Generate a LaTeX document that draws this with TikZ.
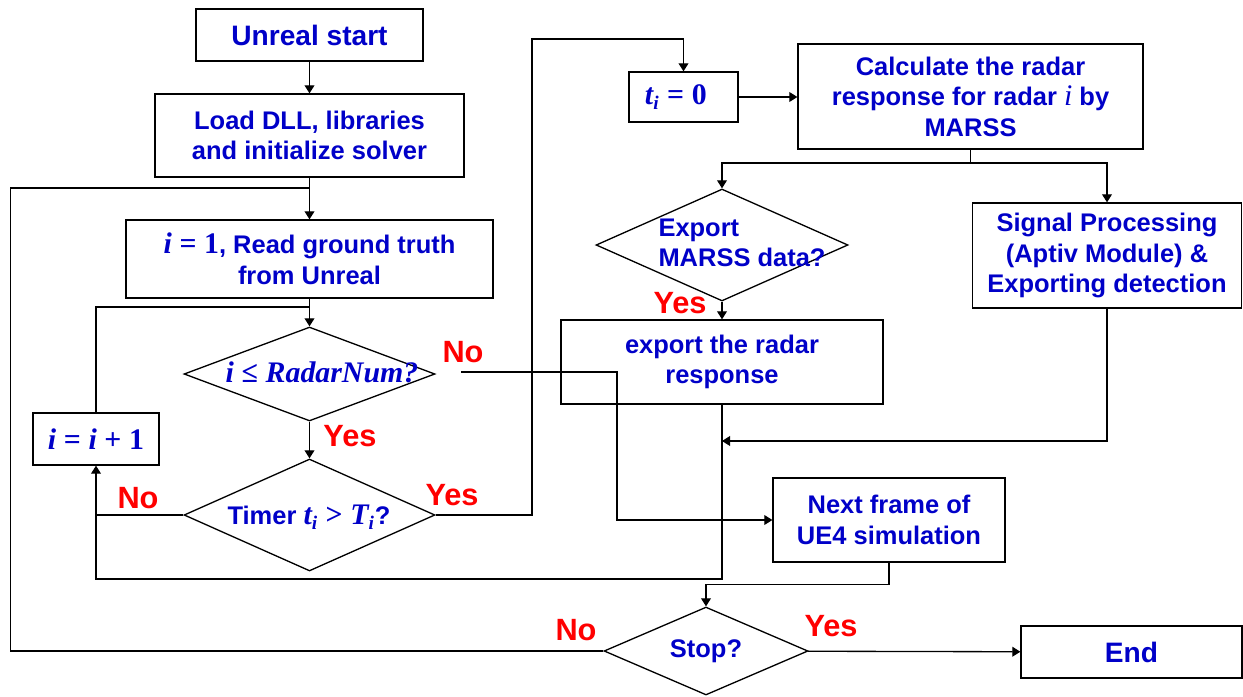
\documentclass[tikz,border=0pt]{standalone}
\usepackage{amsmath,amssymb}
\usepackage[no-math]{fontspec}
\setmainfont{Liberation Sans}
\newfontfamily\mathtxt{Liberation Serif}
\usepackage{tikz}
\usetikzlibrary{shapes.geometric}
\usetikzlibrary{arrows.meta}
\definecolor{boxblue}{RGB}{0,0,200}
\definecolor{labred}{RGB}{255,0,0}
% bold italic variables and upright bold symbols
\newcommand{\mv}[1]{{\mathtxt\fontsize{17}{17.4}\selectfont\bfseries\itshape #1}}
\newcommand{\mr}[1]{\hspace{0.3em}{\mathtxt\fontsize{17}{17.4}\selectfont\bfseries #1}\hspace{0.3em}}
\newcommand{\sub}[1]{\textsubscript{\mathtxt\fontsize{11}{12}\selectfont\bfseries\itshape #1}}

\begin{document}
\begin{tikzpicture}[x=0.02cm, y=-0.02cm, line width=0.75pt,
    box/.style={draw, rectangle, inner sep=0pt, align=center, text=boxblue, font=\fontsize{14.5}{17.4}\selectfont\bfseries},
    decision/.style={draw, diamond, inner sep=0pt},
    txt/.style={text=boxblue, align=center, font=\fontsize{14.5}{17.4}\selectfont\bfseries},
    yn/.style={text=labred, font=\fontsize{17.5}{20}\selectfont\bfseries},
    arr/.style={-{Triangle[length=4.6pt, width=5.6pt]}}]
    \useasboundingbox (0, 0) rectangle (1243, 696);
    % left column
    \node [box, minimum width=4.54cm, minimum height=1.04cm, font=\fontsize{16}{19}\selectfont\bfseries] (start) at (309.5, 35) {Unreal start};
    \node [box, minimum width=6.18cm, minimum height=1.66cm] (load) at (309.5, 135.5) {Load DLL, libraries\\and initialize solver};
    \node [box, minimum width=7.34cm, minimum height=1.56cm] (read) at (309.5, 259) {\mv{i}\mr{=}{\mathtxt\fontsize{17}{17.4}\selectfont 1}, Read ground truth\\from Unreal};
    \node [decision, minimum width=5.02cm, minimum height=1.88cm] (radar) at (309.5, 374) {};
    \node [txt] (radarTxt) at (322, 372) {\mv{i}\mr{≤}\mv{RadarNum?}};
    \node [decision, minimum width=5.02cm, minimum height=2.24cm] (timer) at (309.5, 515) {};
    \node [txt] (timerTxt) at (309, 517) {Timer \mv{t}\sub{i}\mr{>}\mv{T}\sub{i}?};
    \node [box, minimum width=2.52cm, minimum height=1.04cm] (inc) at (96, 439) {\mv{i}\mr{=}\mv{i}\mr{+}\mv{\upshape 1}};
    % right part
    \node [box, minimum width=2.18cm, minimum height=1cm] (ti) at (683.5, 97) {\mv{t}\sub{i}\mr{=}\mv{\upshape 0}\hspace{0.6em}};
    \node [box, minimum width=6.9cm, minimum height=2.1cm] (calc) at (970.5, 96.5) {Calculate the radar\\response for radar {\mathtxt\fontsize{17}{17.4}\selectfont\mdseries\itshape i} by\\MARSS};
    \node [decision, minimum width=5.04cm, minimum height=2.24cm] (export) at (722, 245) {};
    \node [txt, anchor=west, align=left] (exportTxt) at (652, 243) {Export\\MARSS data?};
    \node [box, minimum width=5.38cm, minimum height=2.1cm] (sig) at (1107, 255.5) {Signal Processing\\(Aptiv Module) \&\\Exporting detection};
    \node [box, minimum width=6.44cm, minimum height=1.68cm] (expbox) at (722, 362) {export the radar\\response};
    \node [box, minimum width=4.64cm, minimum height=1.68cm] (next) at (889, 520) {Next frame of\\UE4 simulation};
    \node [decision, minimum width=4.08cm, minimum height=1.76cm] (stop) at (706, 651) {};
    \node [txt] (stopTxt) at (706, 651) {Stop?};
    \node [box, minimum width=4.42cm, minimum height=1.04cm, font=\fontsize{16}{19}\selectfont\bfseries] (end) at (1131.5, 652) {End};
    % joints
    \coordinate (loopTop) at (309.5, 188);
    \coordinate (incJoin) at (309.5, 307);
    \coordinate (timerYes) at (532, 39);
    \coordinate (calcSplit) at (970.5, 163);
    \coordinate (sigJoin) at (722, 441);
    \coordinate (backLoop) at (96, 579);
    \coordinate (radarNo) at (461, 372);
    % connectors
    \draw [arr] (start) -- (load);
    \draw [arr] (load) -- (read);
    \draw (stop.west) -- ++(-593, 0) |- (loopTop);
    \draw [arr] (read) -- (radar);
    \draw (inc.north) |- (incJoin);
    \draw [arr] (radar) -- (timer);
    \draw [arr] (timer.west) -| (inc.south);
    \draw (expbox.south) |- (backLoop) -- (backLoop |- timer.west);
    \draw [arr] (timer.east) -| (timerYes) -| (ti.north);
    \draw [arr] (ti.east) -- (ti.east -| calc.west);
    \draw (calc.south) -- (calcSplit);
    \draw [arr] (calcSplit) -| (export.north);
    \draw [arr] (calcSplit) -| (sig.north);
    \draw [arr] (export) -- (expbox);
    \draw [arr] (sig.south) |- (sigJoin);
    \draw [arr] (radarNo) -- ++(156, 0) |- (next.west);
    \draw [arr] (next.south) -- ++(0, 22) -| (stop.north);
    \draw [arr] (stop) -- (end);
    % yes / no
    \node [yn] (radarNoLab) at (463, 352) {No};
    \node [yn] (radarYesLab) at (350, 436) {Yes};
    \node [yn] (timerNoLab) at (138, 498) {No};
    \node [yn] (timerYesLab) at (452, 495) {Yes};
    \node [yn] (exportYesLab) at (680, 303) {Yes};
    \node [yn] (stopNoLab) at (576, 630) {No};
    \node [yn] (stopYesLab) at (831, 626) {Yes};
\end{tikzpicture}
\end{document}
